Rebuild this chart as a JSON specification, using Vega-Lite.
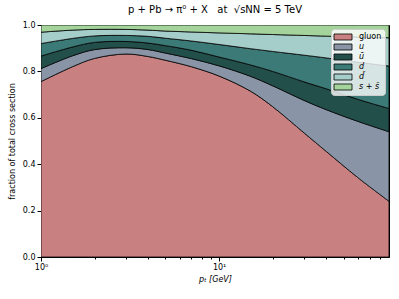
{
  "$schema": "https://vega.github.io/schema/vega-lite/v6.json",
  "width": 348,
  "height": 232,
  "autosize": {"type": "none"},
  "padding": {"left": 41, "top": 25, "right": 10, "bottom": 42},
  "background": "white",
  "title": {
    "text": "p + Pb → π⁰ + X\u00a0\u00a0\u00a0at\u00a0\u00a0√sNN = 5 TeV",
    "font": "DejaVu Sans",
    "fontSize": 10,
    "fontWeight": "normal",
    "color": "black",
    "anchor": "middle",
    "offset": 6
  },
  "config": {
    "view": {"stroke": "black", "strokeWidth": 1},
    "font": "DejaVu Sans",
    "axis": {
      "grid": false,
      "domainColor": "black",
      "tickColor": "black",
      "labelColor": "black",
      "titleColor": "black",
      "labelFont": "DejaVu Sans",
      "titleFont": "DejaVu Sans",
      "labelFontSize": 8,
      "titleFontSize": 8,
      "titleFontWeight": "normal"
    }
  },
  "data": {
    "values": [
      {"pt": 1, "parton": "gluon", "frac": 0.756},
      {"pt": 1, "parton": "u", "frac": 0.056},
      {"pt": 1, "parton": "ū", "frac": 0.054},
      {"pt": 1, "parton": "d", "frac": 0.054},
      {"pt": 1, "parton": "d̄", "frac": 0.049},
      {"pt": 1, "parton": "s + s̄", "frac": 0.031},
      {"pt": 1.5, "parton": "gluon", "frac": 0.82},
      {"pt": 1.5, "parton": "u", "frac": 0.047},
      {"pt": 1.5, "parton": "ū", "frac": 0.038},
      {"pt": 1.5, "parton": "d", "frac": 0.037},
      {"pt": 1.5, "parton": "d̄", "frac": 0.036},
      {"pt": 1.5, "parton": "s + s̄", "frac": 0.022},
      {"pt": 2, "parton": "gluon", "frac": 0.856},
      {"pt": 2, "parton": "u", "frac": 0.038},
      {"pt": 2, "parton": "ū", "frac": 0.031},
      {"pt": 2, "parton": "d", "frac": 0.028},
      {"pt": 2, "parton": "d̄", "frac": 0.028},
      {"pt": 2, "parton": "s + s̄", "frac": 0.019},
      {"pt": 3, "parton": "gluon", "frac": 0.875},
      {"pt": 3, "parton": "u", "frac": 0.027},
      {"pt": 3, "parton": "ū", "frac": 0.027},
      {"pt": 3, "parton": "d", "frac": 0.026},
      {"pt": 3, "parton": "d̄", "frac": 0.026},
      {"pt": 3, "parton": "s + s̄", "frac": 0.019},
      {"pt": 4, "parton": "gluon", "frac": 0.864},
      {"pt": 4, "parton": "u", "frac": 0.03},
      {"pt": 4, "parton": "ū", "frac": 0.028},
      {"pt": 4, "parton": "d", "frac": 0.029},
      {"pt": 4, "parton": "d̄", "frac": 0.027},
      {"pt": 4, "parton": "s + s̄", "frac": 0.022},
      {"pt": 5, "parton": "gluon", "frac": 0.848},
      {"pt": 5, "parton": "u", "frac": 0.031},
      {"pt": 5, "parton": "ū", "frac": 0.032},
      {"pt": 5, "parton": "d", "frac": 0.032},
      {"pt": 5, "parton": "d̄", "frac": 0.031},
      {"pt": 5, "parton": "s + s̄", "frac": 0.026},
      {"pt": 7, "parton": "gluon", "frac": 0.82},
      {"pt": 7, "parton": "u", "frac": 0.035},
      {"pt": 7, "parton": "ū", "frac": 0.036},
      {"pt": 7, "parton": "d", "frac": 0.04},
      {"pt": 7, "parton": "d̄", "frac": 0.039},
      {"pt": 7, "parton": "s + s̄", "frac": 0.03},
      {"pt": 10, "parton": "gluon", "frac": 0.78},
      {"pt": 10, "parton": "u", "frac": 0.044},
      {"pt": 10, "parton": "ū", "frac": 0.038},
      {"pt": 10, "parton": "d", "frac": 0.054},
      {"pt": 10, "parton": "d̄", "frac": 0.05},
      {"pt": 10, "parton": "s + s̄", "frac": 0.034},
      {"pt": 15, "parton": "gluon", "frac": 0.715},
      {"pt": 15, "parton": "u", "frac": 0.064},
      {"pt": 15, "parton": "ū", "frac": 0.049},
      {"pt": 15, "parton": "d", "frac": 0.07},
      {"pt": 15, "parton": "d̄", "frac": 0.064},
      {"pt": 15, "parton": "s + s̄", "frac": 0.038},
      {"pt": 20, "parton": "gluon", "frac": 0.648},
      {"pt": 20, "parton": "u", "frac": 0.09},
      {"pt": 20, "parton": "ū", "frac": 0.062},
      {"pt": 20, "parton": "d", "frac": 0.086},
      {"pt": 20, "parton": "d̄", "frac": 0.073},
      {"pt": 20, "parton": "s + s̄", "frac": 0.041},
      {"pt": 30, "parton": "gluon", "frac": 0.535},
      {"pt": 30, "parton": "u", "frac": 0.14},
      {"pt": 30, "parton": "ū", "frac": 0.08},
      {"pt": 30, "parton": "d", "frac": 0.115},
      {"pt": 30, "parton": "d̄", "frac": 0.085},
      {"pt": 30, "parton": "s + s̄", "frac": 0.045},
      {"pt": 40, "parton": "gluon", "frac": 0.455},
      {"pt": 40, "parton": "u", "frac": 0.18},
      {"pt": 40, "parton": "ū", "frac": 0.09},
      {"pt": 40, "parton": "d", "frac": 0.133},
      {"pt": 40, "parton": "d̄", "frac": 0.094},
      {"pt": 40, "parton": "s + s̄", "frac": 0.048},
      {"pt": 60, "parton": "gluon", "frac": 0.343},
      {"pt": 60, "parton": "u", "frac": 0.242},
      {"pt": 60, "parton": "ū", "frac": 0.095},
      {"pt": 60, "parton": "d", "frac": 0.16},
      {"pt": 60, "parton": "d̄", "frac": 0.108},
      {"pt": 60, "parton": "s + s̄", "frac": 0.052},
      {"pt": 90, "parton": "gluon", "frac": 0.24},
      {"pt": 90, "parton": "u", "frac": 0.30},
      {"pt": 90, "parton": "ū", "frac": 0.10},
      {"pt": 90, "parton": "d", "frac": 0.183},
      {"pt": 90, "parton": "d̄", "frac": 0.122},
      {"pt": 90, "parton": "s + s̄", "frac": 0.055}
    ]
  },
  "transform": [
    {"calculate": "indexof(['gluon', 'u', 'ū', 'd', 'd̄', 's + s̄'], datum.parton)", "as": "stackorder"}
  ],
  "mark": {"type": "area", "interpolate": "catmull-rom", "stroke": "black", "strokeWidth": 0.8, "clip": true},
  "encoding": {
    "x": {
      "field": "pt",
      "type": "quantitative",
      "scale": {"type": "log", "domain": [1, 90], "nice": false},
      "axis": {
        "title": "pₜ [GeV]",
        "titleFontStyle": "italic",
        "titlePadding": 4,
        "values": [1, 2, 3, 4, 5, 6, 7, 8, 9, 10, 20, 30, 40, 50, 60, 70, 80],
        "labelExpr": "datum.value == 1 ? '10⁰' : (datum.value == 10 ? '10¹' : '')",
        "tickSize": {"condition": {"test": "datum.value == 1 || datum.value == 10", "value": 4}, "value": 2},
        "labelFlush": false,
        "labelPadding": 2
      }
    },
    "y": {
      "field": "frac",
      "type": "quantitative",
      "stack": "zero",
      "scale": {"domain": [0, 1], "nice": false},
      "axis": {
        "title": "fraction of total cross section",
        "values": [0, 0.2, 0.4, 0.6, 0.8, 1.0],
        "format": ".1f",
        "tickSize": 4,
        "labelPadding": 2,
        "titlePadding": 6
      }
    },
    "order": {"field": "stackorder", "type": "quantitative", "sort": "ascending"},
    "color": {
      "field": "parton",
      "type": "nominal",
      "sort": ["gluon", "u", "ū", "d", "d̄", "s + s̄"],
      "scale": {
        "domain": ["gluon", "u", "ū", "d", "d̄", "s + s̄"],
        "range": ["#c98081", "#8995a6", "#234f4b", "#3b7a77", "#a5cdc9", "#a4d49c"]
      },
      "legend": {
        "title": null,
        "orient": "top-right",
        "offset": 4,
        "padding": 3,
        "fillColor": "rgba(255,255,255,0.8)",
        "strokeColor": "#cccccc",
        "cornerRadius": 3,
        "symbolType": "M-2,-0.67H2V0.67H-2Z",
        "symbolSize": 81,
        "symbolOffset": 4,
        "symbolStrokeColor": "black",
        "symbolStrokeWidth": 0.8,
        "symbolOpacity": 1,
        "labelFont": "DejaVu Sans",
        "labelFontSize": 8,
        "labelColor": "black",
        "labelOffset": 11,
        "rowPadding": 0,
        "encode": {
          "labels": {"update": {"fontStyle": {"signal": "datum.label == 'gluon' ? 'normal' : 'italic'"}}},
          "symbols": {"update": {"fillOpacity": {"value": 1}}}
        }
      }
    }
  }
}
